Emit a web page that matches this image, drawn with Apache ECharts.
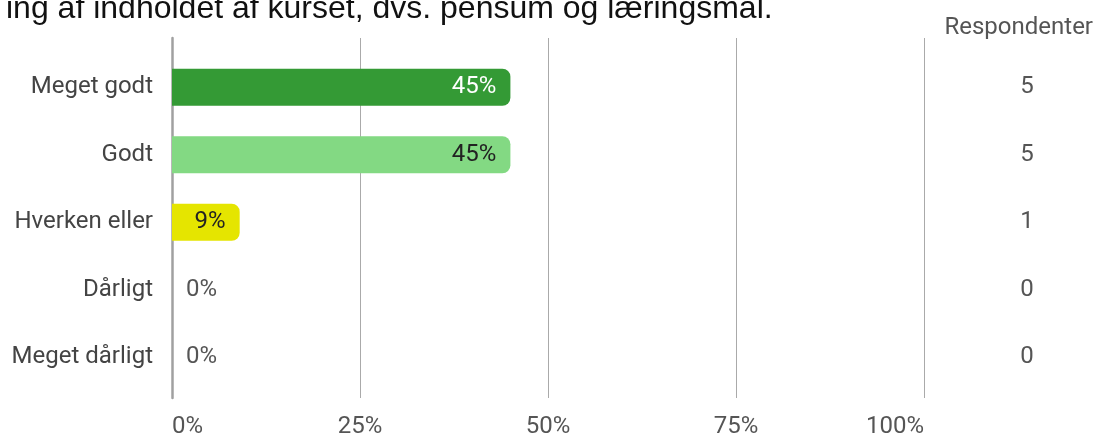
<!DOCTYPE html>
<html>
<head>
<meta charset="utf-8">
<script src="https://cdn.jsdelivr.net/npm/echarts@6/dist/echarts.min.js"></script>
<style>
  html, body { margin: 0; padding: 0; background: #fff; }
  #chart { width: 1104px; height: 439px; }
</style>
</head>
<body>
<div id="chart"></div>
<script>
// data
const categories = ['Meget godt', 'Godt', 'Hverken eller', 'Dårligt', 'Meget dårligt']
const percents = [45, 45, 9, 0, 0]
const respondents = [5, 5, 1, 0, 0]
const barColors = ['#349a35', '#83d983', '#e5e500', '#cccccc', '#cccccc']
const labelColors = ['#ffffff', '#222222', '#222222', '#555555', '#555555']
const xTicks = [0, 25, 50, 75, 100]

const FONT = 'Roboto'
const SIZE = 24

const chart = echarts.init(document.getElementById('chart'))

const barData = percents.map((v, i) => ({
  value: v,
  itemStyle: { color: barColors[i] },
  label: {
    position: v > 0 ? 'insideRight' : 'right',
    distance: 14,
    color: labelColors[i]
  }
}))

chart.setOption({
  animation: false,
  title: [
    {
      text: 'ing af indholdet af kurset, dvs. pensum og læringsmål.',
      left: 1,
      top: -12,
      textStyle: { fontFamily: 'Liberation Sans', fontSize: 32, fontWeight: 'normal', color: '#111' }
    },
    {
      text: 'Respondenter',
      right: 6,
      top: 11,
      textStyle: { fontFamily: FONT, fontSize: SIZE, fontWeight: 'normal', color: '#555' }
    }
  ],
  grid: [
    // grid lines and axis labels
    { left: 172, right: 180, top: 38, bottom: 35 },
    // bars
    { left: 172, right: 180, top: 53.5, height: 337.5 }
  ],
  xAxis: [
    {
      gridIndex: 0,
      type: 'value',
      min: xTicks[0],
      max: xTicks[xTicks.length - 1],
      interval: 25,
      axisLine: { show: false },
      axisTick: { show: false },
      splitLine: { show: true, lineStyle: { color: '#aaaaaa', width: 1 } },
      axisLabel: {
        formatter: '{value}%',
        fontFamily: FONT,
        fontSize: SIZE,
        color: '#555',
        margin: 17,
        alignMinLabel: 'left',
        alignMaxLabel: 'right'
      }
    },
    { gridIndex: 1, type: 'value', min: 0, max: 100, show: false }
  ],
  yAxis: [
    {
      gridIndex: 0,
      type: 'value',
      axisLine: { show: true, lineStyle: { color: '#a0a0a0', width: 2.5 } },
      axisTick: { show: false },
      axisLabel: { show: false },
      splitLine: { show: false }
    },
    {
      gridIndex: 1,
      type: 'category',
      data: categories,
      inverse: true,
      axisLine: { show: false },
      axisTick: { show: false },
      axisLabel: { fontFamily: FONT, fontSize: SIZE, color: '#444', margin: 19, padding: [4, 0, 0, 0] }
    },
    {
      gridIndex: 1,
      type: 'category',
      position: 'right',
      data: respondents.map(String),
      inverse: true,
      axisLine: { show: false },
      axisTick: { show: false },
      axisLabel: { fontFamily: FONT, fontSize: SIZE, color: '#555', margin: 103, align: 'center', padding: [4, 0, 0, 0] }
    }
  ],
  series: [
    {
      type: 'bar',
      xAxisIndex: 1,
      yAxisIndex: 1,
      barWidth: 37,
      itemStyle: { borderRadius: [0, 8, 8, 0] },
      label: {
        show: true,
        formatter: '{c}%',
        fontFamily: FONT,
        fontSize: SIZE,
        padding: [3, 0, 0, 0]
      },
      data: barData
    }
  ]
})

window.addEventListener('resize', () => chart.resize())
</script>
</body>
</html>
